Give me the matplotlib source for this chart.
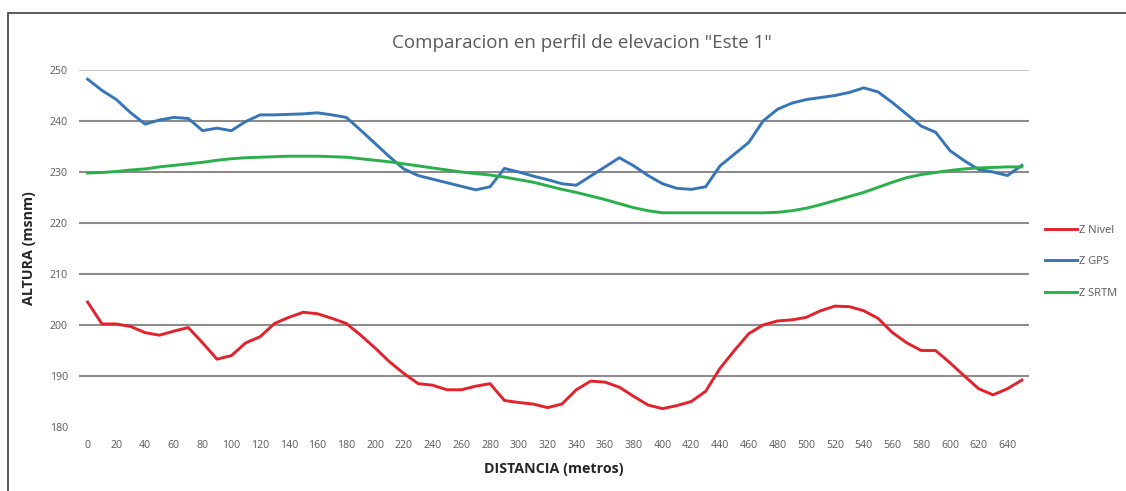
import matplotlib
matplotlib.use("Agg")
import matplotlib.pyplot as plt
from matplotlib.patches import Rectangle

distancia = list(range(0, 660, 10))

z_nivel = [204.5, 200.2, 200.2, 199.7, 198.5, 198.0, 198.8, 199.5, 196.5, 193.3,
           194.0, 196.5, 197.7, 200.3, 201.5, 202.5, 202.2, 201.3, 200.3, 198.0,
           195.5, 192.8, 190.5, 188.5, 188.2, 187.3, 187.3, 188.0, 188.5, 185.2,
           184.8, 184.5, 183.8, 184.5, 187.3, 189.0, 188.8, 187.8, 186.0, 184.3,
           183.6, 184.2, 185.0, 187.0, 191.5, 195.0, 198.3, 200.0, 200.8, 201.0,
           201.5, 202.8, 203.7, 203.6, 202.8, 201.3, 198.5, 196.5, 195.0, 195.0,
           192.6, 190.0, 187.5, 186.3, 187.5, 189.2]

z_gps = [248.2, 246.0, 244.2, 241.6, 239.4, 240.2, 240.7, 240.5, 238.1, 238.6,
         238.1, 239.9, 241.2, 241.2, 241.3, 241.4, 241.6, 241.2, 240.7, 238.2,
         235.6, 233.0, 230.6, 229.3, 228.6, 227.9, 227.2, 226.5, 227.1, 230.7,
         230.0, 229.2, 228.5, 227.7, 227.4, 229.2, 231.0, 232.8, 231.2, 229.3,
         227.7, 226.8, 226.6, 227.1, 231.2, 233.5, 235.8, 240.0, 242.3, 243.5,
         244.2, 244.6, 245.0, 245.6, 246.5, 245.7, 243.6, 241.3, 239.0, 237.8,
         234.2, 232.2, 230.5, 230.0, 229.3, 231.3]

z_srtm = [229.8, 229.9, 230.1, 230.4, 230.6, 231.0, 231.3, 231.6, 231.9, 232.3,
          232.6, 232.8, 232.9, 233.0, 233.1, 233.1, 233.1, 233.0, 232.9, 232.6,
          232.3, 232.0, 231.6, 231.2, 230.8, 230.4, 230.0, 229.7, 229.4, 229.0,
          228.5, 228.0, 227.3, 226.6, 226.0, 225.3, 224.6, 223.8, 223.0, 222.4,
          222.0, 222.0, 222.0, 222.0, 222.0, 222.0, 222.0, 222.0, 222.1, 222.4,
          222.9, 223.6, 224.4, 225.2, 226.0, 227.0, 228.0, 228.9, 229.5, 229.9,
          230.3, 230.6, 230.8, 230.9, 231.0, 231.0]

x_ticks = list(range(0, 660, 20))
y_ticks = [180, 190, 200, 210, 220, 230, 240, 250]

title = 'Comparacion en perfil de elevacion "Este 1"'
series_names = ["Z Nivel", "Z GPS", "Z SRTM"]
colors = ["#e4222c", "#3676b8", "#2ab04b"]

plt.rcParams['font.family'] = ['Open Sans', 'DejaVu Sans']

W, H = 1126, 491
fig = plt.figure(figsize=(W / 100, H / 100), dpi=100)

# outer chart border
fig.patches.append(Rectangle((8 / W, -0.05), 1.2, (H - 13) / H + 0.05,
                             transform=fig.transFigure, fill=False,
                             edgecolor="#404040", linewidth=1.2))

ax = fig.add_axes([79 / W, (H - 427) / H, (1029 - 79) / W, (427 - 70) / H])
ax.set_xlim(-6, 655)
ax.set_ylim(180, 250)

for v in y_ticks[1:]:
    ax.axhline(v, color="#c8c8c8" if v == 250 else "#8c8c8c", lw=1.5, zorder=1)

lines = []
for ys, c, n in zip([z_nivel, z_gps, z_srtm], colors, series_names):
    ln, = ax.plot(distancia, ys, color=c, lw=2.1, label=n, zorder=3,
                  solid_joinstyle="round")
    lines.append(ln)

for s in ax.spines.values():
    s.set_visible(False)

ax.set_xticks(x_ticks)
ax.set_xticklabels([str(t) for t in x_ticks])
ax.set_yticks(y_ticks)
ax.tick_params(axis="both", length=0, labelsize=7.6, colors="#595959")
ax.tick_params(axis="x", pad=9)
ax.tick_params(axis="y", pad=8)

ax.set_xlabel("DISTANCIA (metros)", fontsize=10.3, fontweight="bold",
              color="#262626", labelpad=8)
ax.set_ylabel("ALTURA (msnm)", fontsize=10.3, fontweight="bold",
              color="#262626", labelpad=10)

fig.text(582 / W, 1 - 43 / H, title, ha="center", va="center",
         fontsize=13.5, color="#595959")

leg = fig.legend(handles=lines, loc="upper left",
                 bbox_to_anchor=(1039 / W, 1 - 219 / H),
                 frameon=False, fontsize=8, handlelength=2.9,
                 handletextpad=0.2, labelspacing=1.85, borderpad=0)
for t in leg.get_texts():
    t.set_color("#595959")

fig.savefig("out.png", dpi=100)
